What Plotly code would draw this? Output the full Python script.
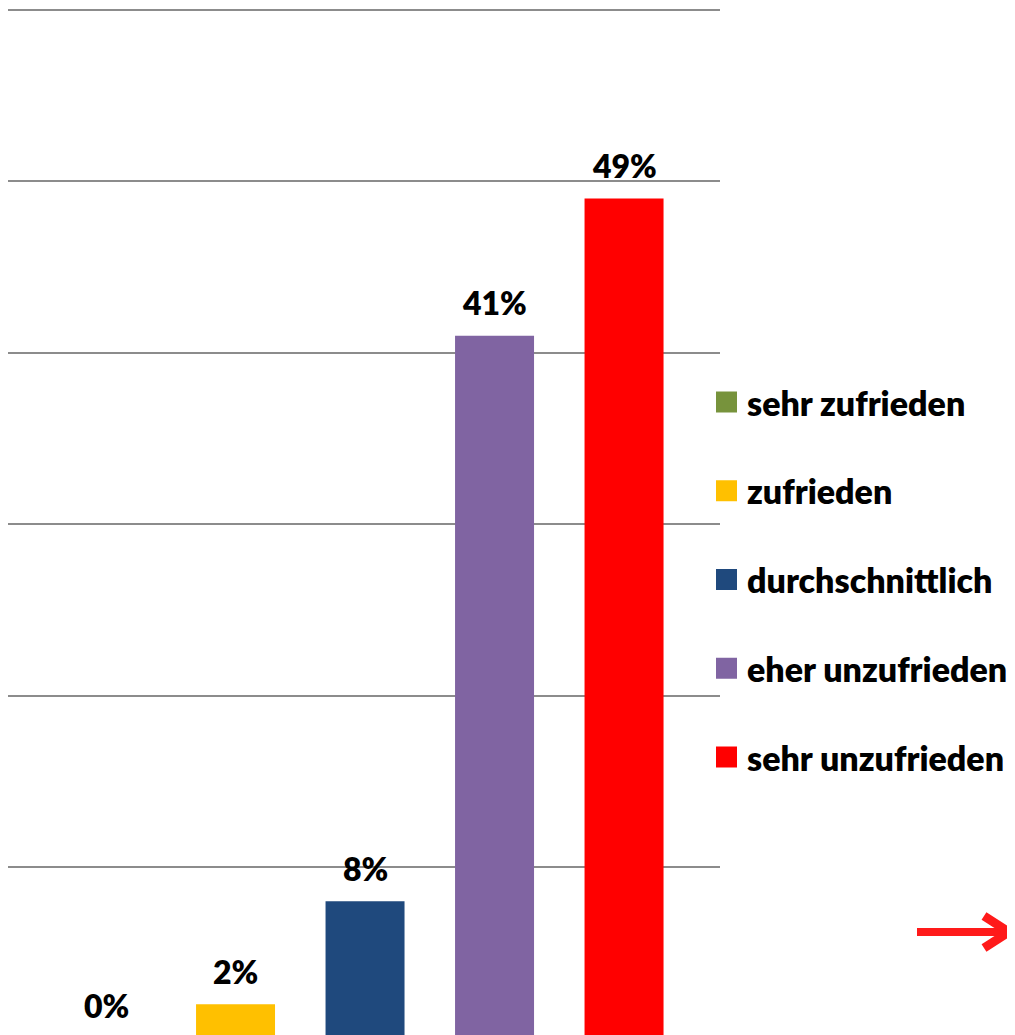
import plotly.graph_objects as go

# satisfaction survey, share of answers per category
categories = ["sehr zufrieden", "zufrieden", "durchschnittlich", "eher unzufrieden", "sehr unzufrieden"]
values = [0, 2, 8, 41, 49]
labels = ["0%", "2%", "8%", "41%", "49%"]
colors = ["#77933C", "#FFC000", "#1F497D", "#8064A2", "#FF0000"]

# the page body has an 8px margin, so the figure is drawn 8px in from the
# window corner; everything below is laid out in window pixels and shifted
OFF = 8
W, H = 1015 - OFF, 1035 - OFF
PLOT_L, PLOT_R = 8, 720          # window pixels of the plot area
FONT = "Lato, 'Open Sans', sans-serif"
WEIGHT = 800


def px_x(p):
    """window pixel x -> paper x"""
    return (p - PLOT_L) / (PLOT_R - PLOT_L)


def px_y(p):
    """window pixel y (from top) -> paper y"""
    return (H - (p - OFF)) / H


# y scale: 0 at window y 1038.5, 60 at window y 10
y_zero, y_sixty = 1038.5 - OFF, 10 - OFF
per_unit = (y_zero - y_sixty) / 60
y_top = 60 + y_sixty / per_unit
y_bottom = (y_zero - H) / per_unit

fig = go.Figure()

fig.add_trace(
    go.Bar(
        x=list(range(len(categories))),
        y=values,
        marker=dict(color=colors, line=dict(width=0)),
        hovertext=categories,
        showlegend=False,
    )
)

# value labels above each bar (anchor clamped into the visible range,
# otherwise plotly drops the 0% label)
for i, (v, lab) in enumerate(zip(values, labels)):
    anchor = max(v, y_bottom + 0.01)
    fig.add_annotation(
        x=i, y=anchor, text=lab, showarrow=False,
        yanchor="middle", yshift=33 - (anchor - v) * per_unit,
        font=dict(family=FONT, size=32, color="black", weight=WEIGHT),
    )

# hand-drawn legend on the right
for i, (cat, col) in enumerate(zip(categories, colors)):
    cy = 402 + i * 88.75
    fig.add_shape(
        type="rect", xref="paper", yref="paper",
        x0=px_x(716), x1=px_x(737), y0=px_y(cy - 10.5), y1=px_y(cy + 10.5),
        fillcolor=col, line=dict(width=0),
    )
    fig.add_annotation(
        xref="paper", yref="paper", x=px_x(745), y=px_y(cy),
        xanchor="left", yanchor="middle", showarrow=False,
        text=cat,
        font=dict(family=FONT, size=34, color="black", weight=WEIGHT),
    )

# red arrow bottom right
fig.add_shape(
    type="line", xref="paper", yref="paper",
    x0=px_x(917), x1=px_x(1008), y0=px_y(932), y1=px_y(932),
    line=dict(color="#FF1A1A", width=8),
)
fig.add_shape(
    type="path", xref="paper", yref="paper",
    path=(f"M{px_x(984)},{px_y(916)} L{px_x(1009)},{px_y(932)} "
          f"L{px_x(984)},{px_y(948)}"),
    line=dict(color="#FF1A1A", width=9),
)

fig.update_xaxes(
    range=[-0.757, 4.741], showgrid=False, showticklabels=False,
    zeroline=False, showline=False,
)
fig.update_yaxes(
    range=[y_bottom, y_top], dtick=10, tick0=0, showgrid=True,
    gridcolor="#8C8C8C", gridwidth=1.5, showticklabels=False,
    zeroline=False, showline=False,
)

fig.update_layout(
    width=W, height=H,
    margin=dict(l=PLOT_L - OFF, r=(1015 - PLOT_R), t=0, b=0, pad=0),
    plot_bgcolor="white", paper_bgcolor="white",
    bargap=0.39,
    showlegend=False,
    font=dict(family=FONT),
)

fig.write_html("out.html")
